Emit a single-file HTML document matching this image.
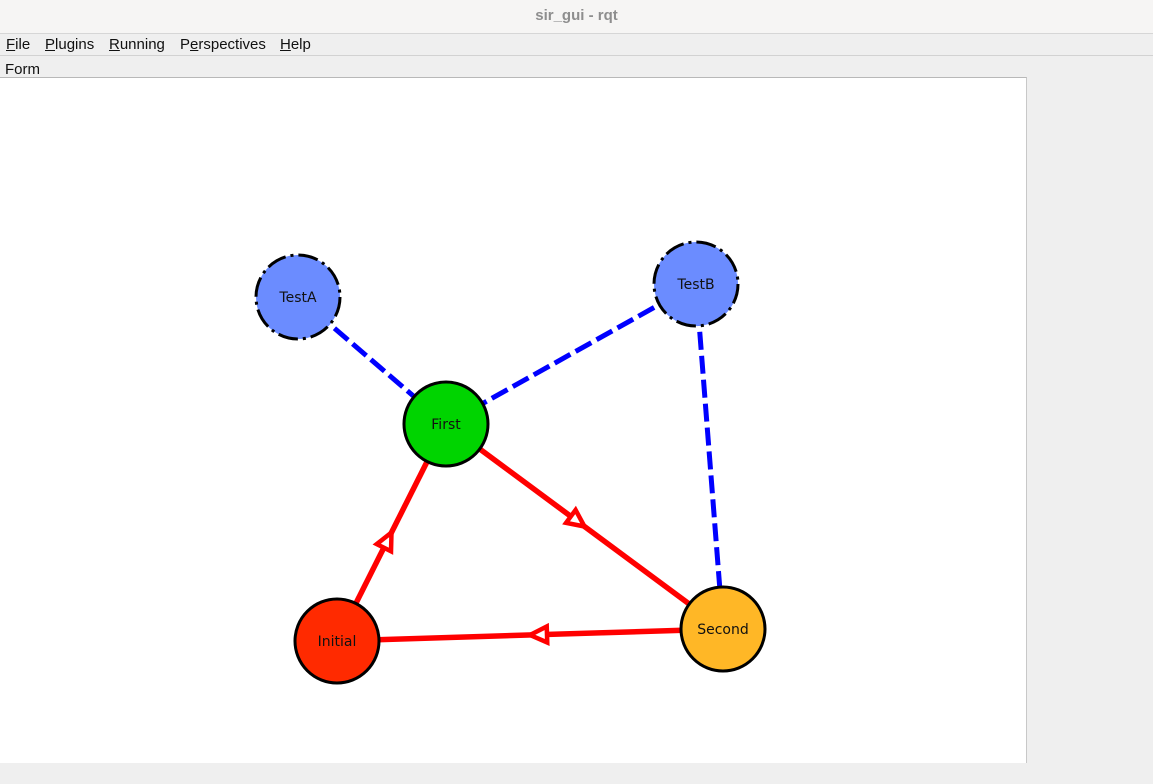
<!DOCTYPE html>
<html><head><meta charset="utf-8"><style>
body{margin:0;width:1153px;height:784px;overflow:hidden;background:#efefef;font-family:"Liberation Sans","DejaVu Sans",sans-serif;}
#title{position:absolute;left:0;top:0;width:1153px;height:33px;background:#f6f5f4;border-bottom:1px solid #d6d6d6;text-align:center;line-height:32px;font-size:15px;font-weight:bold;color:#8e8e8e;}
#menu{position:absolute;left:0;top:34px;width:1153px;height:21px;border-bottom:1px solid #d2d2d2;font-size:15px;line-height:22px;}
#menu span{position:absolute;top:0;color:#111}
#form{position:absolute;left:5px;top:60px;font-size:15px;line-height:19px;color:#111}
#canvas{position:absolute;left:0;top:77px;width:1026px;height:685px;background:#fff;border-top:1px solid #b8b8b8;border-right:1px solid #c8c8c8;}
u{text-decoration:underline}
</style></head><body>
<div id="title">sir_gui - rqt</div>
<div id="menu">
<span style="left:6px"><u>F</u>ile</span>
<span style="left:45px"><u>P</u>lugins</span>
<span style="left:109px"><u>R</u>unning</span>
<span style="left:180px">P<u>e</u>rspectives</span>
<span style="left:280px"><u>H</u>elp</span>
</div>
<div id="form">Form</div>
<div id="canvas">
<svg id="g" width="1026" height="685" viewBox="0 78 1026 685" style="position:absolute;left:0;top:0"></svg>
</div>
<script>
const nodeNames=["TestA","TestB","First","Initial","Second"];
const nodeX=[298,696,446,337,723];
const nodeY=[297,284,424,641,629];
const nodeFill=["#6b8cff","#6b8cff","#00d400","#ff2a00","#ffb726"];
const nodeDashed=[true,true,false,false,false];
const dashedEdges=[[0,2],[1,2],[1,4]];
const arrowEdges=[[3,2],[2,4],[4,3]];
const R=42;
const svg=document.getElementById('g');
const NS='http://www.w3.org/2000/svg';
function mk(t,a){const e=document.createElementNS(NS,t);for(const k in a)e.setAttribute(k,a[k]);svg.appendChild(e);return e;}
dashedEdges.forEach(([a,b])=>{
 const e=mk('line',{x1:nodeX[a],y1:nodeY[a],x2:nodeX[b],y2:nodeY[b],stroke:'#0000ff','stroke-width':5,'stroke-dasharray':'18,6'});
 
 
});
arrowEdges.forEach(([a,b])=>{
 const x1=nodeX[a],y1=nodeY[a],x2=nodeX[b],y2=nodeY[b];
 const e=mk('line',{x1,y1,x2,y2,stroke:'#ff0000','stroke-width':5.5});
 
 
 const L=Math.hypot(x2-x1,y2-y1),ux=(x2-x1)/L,uy=(y2-y1)/L;
 const tx=(x1+x2)/2,ty=(y1+y2)/2,bx=tx-ux*17,by=ty-uy*17;
 const p=mk('polygon',{points:`${tx},${ty} ${bx-uy*8},${by+ux*8} ${bx+uy*8},${by-ux*8}`,fill:'#fff',stroke:'#ff0000','stroke-width':4.5,'stroke-linejoin':'miter'});
 
 
});
nodeNames.forEach((n,i)=>{
 const c=mk('circle',{cx:nodeX[i],cy:nodeY[i],r:R,fill:nodeFill[i],stroke:'#000','stroke-width':3});
 if(nodeDashed[i])c.setAttribute('stroke-dasharray','20,5,3,5');
 
 
 const t=mk('text',{x:nodeX[i],y:nodeY[i]+5,'text-anchor':'middle','font-size':14,'font-family':'DejaVu Sans, Liberation Sans, sans-serif',fill:'#111'});
 t.textContent=n;
 
 
});
</script>
</body></html>
